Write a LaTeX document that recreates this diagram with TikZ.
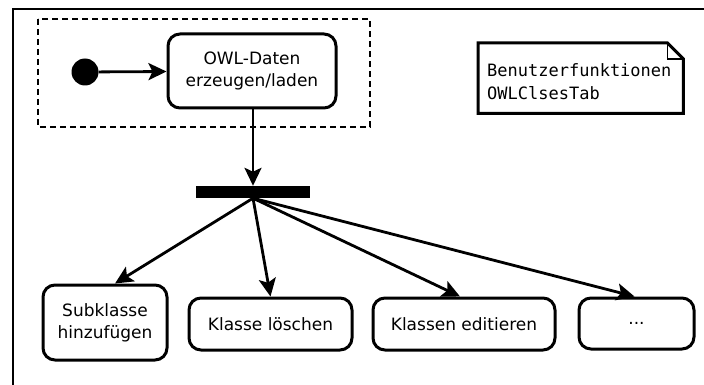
\documentclass[tikz,border=0pt]{standalone}
\usepackage{fontspec}
\setmainfont{DejaVu Sans}
\setmonofont{DejaVu Sans Mono}
\usetikzlibrary{arrows.meta}
\begin{document}
\begin{tikzpicture}[x=1pt,y=-1pt,
  every node/.style={font=\fontsize{17}{22}\selectfont},
  act/.style={draw,line width=3pt,rounded corners=12pt,align=center,inner sep=0pt},
  conn/.style={line width=2.8pt,-{Stealth[length=18pt,width=17pt,inset=4pt]}},
]
\useasboundingbox (0,0) rectangle (704,385);
% outer frame
\draw[line width=2.6pt] (13,390) -- (13,9) -- (710,9);
% dashed group
\draw[line width=2.8pt,dash pattern=on 6pt off 4pt] (38,19) rectangle (370,127);
% initial node
\node[circle,fill=black,minimum size=27pt,inner sep=0pt] (start) at (85,72) {};
\node[act,minimum width=168pt,minimum height=74pt] (owl) at (252,71) {OWL-Daten\\erzeugen/laden};
\draw[conn] (start) -- (owl);
% fork bar
\node[fill=black,minimum width=114pt,minimum height=12pt,inner sep=0pt] (bar) at (253,192) {};
\draw[conn] (owl.south -| bar.north) -- (bar.north);
% note
\node[anchor=north west,inner sep=0pt,minimum width=205pt,minimum height=70pt] (note) at (478,43) {};
\node[align=left,anchor=base west,inner sep=0pt,font=\ttfamily\fontsize{17}{23}\selectfont] (notetext) at (487,100) {Benutzerfunktionen\\OWLClsesTab};
\draw[line width=3pt,line join=miter] (note.north west) -- ([xshift=-16pt]note.north east) -- ([yshift=-16pt]note.north east) -- (note.south east) -- (note.south west) -- cycle;
\draw[line width=1.4pt] ([xshift=-16pt]note.north east) -- ([xshift=-16pt,yshift=-16pt]note.north east) -- ([yshift=-16pt]note.north east);
% actions
\node[act,minimum width=124pt,minimum height=75pt] (sub) at (105,322.5) {Subklasse\\hinzufügen};
\node[act,minimum width=163pt,minimum height=52pt] (del) at (270.5,324) {Klasse löschen};
\node[act,minimum width=182pt,minimum height=52pt] (edit) at (464,324) {Klassen editieren};
\node[act,minimum width=115pt,minimum height=51pt] (more) at (636.5,323.5) {...};
\draw[conn] (bar.south) -- ([xshift=10pt]sub.north);
\draw[conn] (bar.south) -- (del.north);
\draw[conn] (bar.south) -- ([xshift=-4pt]edit.north);
\draw[conn] (bar.south) -- ([xshift=-2pt]more.north);
\end{tikzpicture}
\end{document}
